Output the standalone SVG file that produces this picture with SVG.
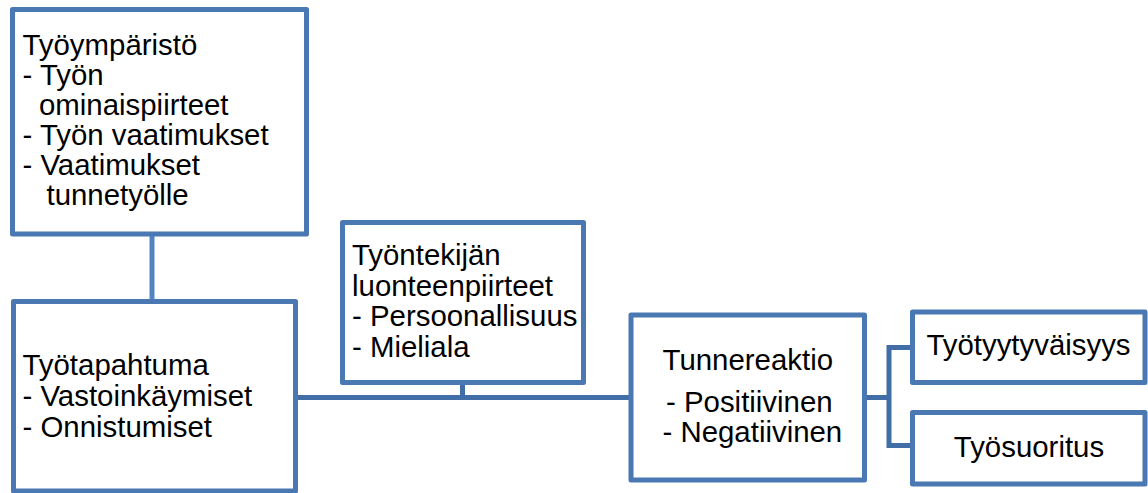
<svg xmlns="http://www.w3.org/2000/svg" width="1148" height="493" viewBox="0 0 1148 493">
  <style>
    .box { fill: #ffffff; stroke: #4a78b2; stroke-width: 5; stroke-linejoin: round; }
    .link { fill: none; stroke: #416ea6; stroke-width: 5; }
    .link-v { fill: none; stroke: #5284c0; stroke-width: 5; }
    text { font-family: "Liberation Sans", Arial, sans-serif; font-size: 29.4px; fill: #000000; }
    .mid { text-anchor: middle; }
  </style>

  <!-- connectors -->
  <g id="connectors">
    <line class="link-v" x1="152" y1="234" x2="152" y2="301.5"/>
    <line class="link" x1="295.5" y1="397.5" x2="631" y2="397.5"/>
    <line class="link" x1="462.5" y1="382.5" x2="462.5" y2="397.5"/>
    <polyline class="link" points="864.5,397.5 889,397.5"/>
    <polyline class="link" points="912.5,347.5 889,347.5 889,445.5 912.5,445.5"/>
  </g>

  <!-- work environment -->
  <g id="tyoymparisto">
    <rect class="box" x="12.5" y="9.5" width="294" height="224.5"/>
    <text x="22.5" y="54.5">Työympäristö</text>
    <text x="22.5" y="84.5">- Työn</text>
    <text x="39" y="114.5">ominaispiirteet</text>
    <text x="22.5" y="144.5">- Työn vaatimukset</text>
    <text x="22.5" y="174.5">- Vaatimukset</text>
    <text x="46.5" y="204.5">tunnetyölle</text>
  </g>

  <!-- work event -->
  <g id="tyotapahtuma">
    <rect class="box" x="13.5" y="301.5" width="282" height="189.5"/>
    <text x="22.5" y="375">Työtapahtuma</text>
    <text x="22.5" y="406">- Vastoinkäymiset</text>
    <text x="22.5" y="436.5">- Onnistumiset</text>
  </g>

  <!-- employee traits -->
  <g id="luonteenpiirteet">
    <rect class="box" x="342.5" y="222.5" width="241" height="160"/>
    <text x="352" y="265">Työntekijän</text>
    <text x="352" y="295.5">luonteenpiirteet</text>
    <text x="352" y="326">- Persoonallisuus</text>
    <text x="352" y="356.5">- Mieliala</text>
  </g>

  <!-- emotional reaction -->
  <g id="tunnereaktio">
    <rect class="box" x="631" y="315" width="233.5" height="165"/>
    <text class="mid" x="747.8" y="370">Tunnereaktio</text>
    <text x="666" y="411.5">- Positiivinen</text>
    <text x="662.5" y="441.5">- Negatiivinen</text>
  </g>

  <!-- job satisfaction -->
  <g id="tyotyytyvaisyys">
    <rect class="box" x="912.5" y="312" width="232.5" height="70.5"/>
    <text class="mid" x="1028.5" y="355">Työtyytyväisyys</text>
  </g>

  <!-- job performance -->
  <g id="tyosuoritus">
    <rect class="box" x="912.5" y="412.5" width="232.5" height="71.5"/>
    <text class="mid" x="1029" y="456.5">Työsuoritus</text>
  </g>
</svg>
